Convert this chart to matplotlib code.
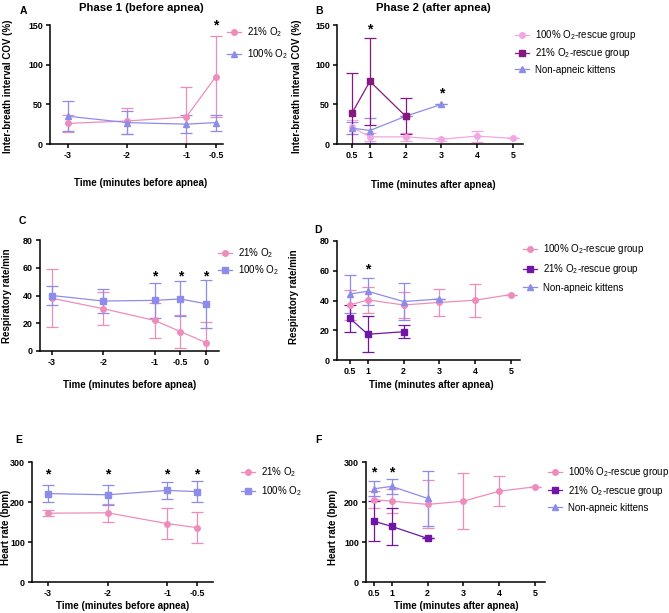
import numpy as np
import matplotlib
matplotlib.use("Agg")
from matplotlib import pyplot as plt
from matplotlib.lines import Line2D

plt.rcParams['font.family'] = ['Liberation Sans', 'DejaVu Sans']
plt.rcParams['mathtext.fontset'] = 'custom'
plt.rcParams['mathtext.rm'] = 'Liberation Sans'
plt.rcParams['mathtext.it'] = 'Liberation Sans:italic'
plt.rcParams['mathtext.bf'] = 'Liberation Sans:bold'

W, H = 669, 613

PINK = '#EE8DBC'
LILAC = '#F2A6E2'
BLUE = '#8E8CE9'
PURPLE_B = '#86197F'
PURPLE = '#7016A6'

# ---- data (mean, error) ----
# A: inter-breath interval COV, phase 1
a_x = [-3, -2, -1, -0.5]
a_21 = [26, 29, 34, 85]
a_21_err = [11, 16, 38, 51]
a_100 = [35, 27, 25, 27]
a_100_err = [19, 15, 11, 10]
a_stars = [(-0.5, 150)]

# B: inter-breath interval COV, phase 2
b_x_rescue100 = [0.5, 1, 2, 3, 4, 5]
b_rescue100 = [21, 9, 9, 6, 10, 7]
b_rescue100_err = [9, 5, 5, 2, 7, 0]
b_x_rescue21 = [0.5, 1, 2]
b_rescue21 = [39, 79, 35]
b_rescue21_err = [51, 55, 23]
b_x_nonapneic = [0.5, 1, 2, 3]
b_nonapneic = [20, 17, 35, 50]
b_nonapneic_err = [8, 16, 0, 0]
b_stars = [(1, 144), (3, 64)]

# C: respiratory rate, phase 1
c_x = [-3, -2, -1, -0.5, 0]
c_21 = [38, 30.5, 22, 14, 6]
c_21_err = [21, 12, 12.5, 12, 15]
c_100 = [40, 36, 36.5, 37.5, 34]
c_100_err = [7, 8.5, 12.7, 12.6, 17.5]
c_stars = [(-1, 54), (-0.5, 54), (0, 54)]

# D: respiratory rate, phase 2
d_x_rescue100 = [0.5, 1, 2, 3, 4, 5]
d_rescue100 = [37, 40.4, 37, 38.7, 40.2, 44]
d_rescue100_err = [10, 8.5, 9, 9, 11, 0]
d_x_rescue21 = [0.5, 1, 2]
d_rescue21 = [28, 17.3, 19]
d_rescue21_err = [9, 12, 4.2]
d_x_nonapneic = [0.5, 1, 2, 3]
d_nonapneic = [44.4, 46.2, 39.3, 41]
d_nonapneic_err = [12.5, 9, 12.4, 0]
d_stars = [(1, 61)]

# E: heart rate, phase 1
e_x = [-3, -2, -1, -0.5]
e_21 = [172, 173, 146, 136]
e_21_err = [8, 23, 39, 38]
e_100 = [221, 218, 229, 226]
e_100_err = [22, 25, 22, 27]
e_stars = [(-3, 270), (-2, 270), (-1, 270), (-0.5, 270)]

# F: heart rate, phase 2
f_x_rescue100 = [0.5, 1, 2, 3, 4, 5]
f_rescue100 = [206, 202, 194, 202, 227, 238]
f_rescue100_err = [21, 30, 60, 70, 37, 0]
f_x_rescue21 = [0.5, 1, 2]
f_rescue21 = [152, 139, 109]
f_rescue21_err = [50, 46, 0]
f_x_nonapneic = [0.5, 1, 2]
f_nonapneic = [233, 239, 209]
f_nonapneic_err = [19, 19, 68]
f_stars = [(0.5, 275), (1, 275)]

fig = plt.figure(figsize=(W / 100, H / 100), dpi=100)


def add_ax(l, t, r, b):
    return fig.add_axes([l / W, 1 - b / H, (r - l) / W, (b - t) / H])


def style(ax, xlim, ylim, xticks, yticks):
    ax.set_xlim(*xlim)
    ax.set_ylim(*ylim)
    ax.set_xticks(xticks)
    ax.set_xticklabels([('%g' % v) for v in xticks], fontweight='bold', fontsize=6.4)
    ax.set_yticks(yticks)
    ax.set_yticklabels([('%g' % v) for v in yticks], fontweight='bold', fontsize=6.4)
    for s in ['top', 'right']:
        ax.spines[s].set_visible(False)
    for s in ['left', 'bottom']:
        ax.spines[s].set_linewidth(1.1)
    ax.tick_params(direction='out', length=3, width=1.1, pad=2)


def series(ax, x, y, err, color, marker, ms):
    ax.errorbar(x, y, yerr=err, color=color, marker=marker, ms=ms, lw=0.9,
                elinewidth=0.9, capsize=4.5, capthick=0.9)
    return Line2D([], [], color=color, marker=marker, ms=ms, lw=0.9)


def stars(ax, pts):
    for x, y in pts:
        ax.text(x, y, '*', ha='center', va='center', fontsize=10, fontweight='bold',
                clip_on=False)


def legend(ax, handles, labels, lx, ly, spacing):
    ax.legend(handles, labels, loc='upper left', bbox_to_anchor=(lx / W, 1 - ly / H),
              bbox_transform=fig.transFigure, frameon=False, fontsize=7,
              borderpad=0, borderaxespad=0, handlelength=1.4, handletextpad=0.7,
              labelspacing=spacing)


def figtext(x, y, s, **kw):
    fig.text(x / W, 1 - y / H, s, ha='center', va='center', **kw)


lab1 = ['21% O$_2$', '100% O$_2$']
lab2 = ['100% O$_2$-rescue group', '21% O$_2$-rescue group', 'Non-apneic kittens']

# A
ax = add_ax(50, 25, 223, 144)
h1 = series(ax, a_x, a_21, a_21_err, PINK, 'o', 4)
h2 = series(ax, a_x, a_100, a_100_err, BLUE, '^', 4)
style(ax, (-3.3, -0.38), (0, 150), a_x, [0, 50, 100, 150])
stars(ax, a_stars)
legend(ax, [h1, h2], lab1, 227, 25, 0.9)

# B
ax = add_ax(337, 25, 523, 144)
h1 = series(ax, b_x_rescue100, b_rescue100, b_rescue100_err, LILAC, 'o', 4)
h3 = series(ax, b_x_nonapneic, b_nonapneic, b_nonapneic_err, BLUE, '^', 4)
h2 = series(ax, b_x_rescue21, b_rescue21, b_rescue21_err, PURPLE_B, 's', 4.2)
style(ax, (0.08, 5.28), (0, 150), b_x_rescue100, [0, 50, 100, 150])
stars(ax, b_stars)
legend(ax, [h1, h2, h3], lab2, 515, 28, 0.45)

# C
ax = add_ax(40, 240, 219, 351)
h1 = series(ax, c_x, c_21, c_21_err, PINK, 'o', 4)
h2 = series(ax, c_x, c_100, c_100_err, BLUE, 's', 4)
style(ax, (-3.23, 0.25), (0, 80), c_x, [0, 20, 40, 60, 80])
stars(ax, c_stars)
legend(ax, [h1, h2], lab1, 218, 246, 0.4)

# D
ax = add_ax(337, 241, 520, 360)
h1 = series(ax, d_x_rescue100, d_rescue100, d_rescue100_err, PINK, 'o', 4)
h3 = series(ax, d_x_nonapneic, d_nonapneic, d_nonapneic_err, BLUE, '^', 4)
h2 = series(ax, d_x_rescue21, d_rescue21, d_rescue21_err, PURPLE, 's', 4.2)
style(ax, (0.14, 5.25), (0, 80), d_x_rescue100, [0, 20, 40, 60, 80])
stars(ax, d_stars)
legend(ax, [h1, h2, h3], lab2, 523, 242, 0.65)

# E
ax = add_ax(32, 462, 213, 582)
h1 = series(ax, e_x, e_21, e_21_err, PINK, 'o', 4)
h2 = series(ax, e_x, e_100, e_100_err, BLUE, 's', 4)
style(ax, (-3.27, -0.23), (0, 300), e_x, [0, 100, 200, 300])
stars(ax, e_stars)
legend(ax, [h1, h2], lab1, 241, 465, 0.55)

# F
ax = add_ax(366, 462, 545, 582)
h1 = series(ax, f_x_rescue100, f_rescue100, f_rescue100_err, PINK, 'o', 4)
h3 = series(ax, f_x_nonapneic, f_nonapneic, f_nonapneic_err, BLUE, '^', 4)
h2 = series(ax, f_x_rescue21, f_rescue21, f_rescue21_err, PURPLE, 's', 4.2)
style(ax, (0.28, 5.28), (0, 300), f_x_rescue100, [0, 100, 200, 300])
stars(ax, f_stars)
legend(ax, [h1, h2, h3], lab2, 548, 465, 0.5)

# labels, titles, panel letters
lab = dict(fontsize=7, fontweight='bold')
figtext(8, 86, 'Inter-breath interval COV (%)', rotation=90, **lab)
figtext(297, 86, 'Inter-breath interval COV (%)', rotation=90, **lab)
figtext(7, 296, 'Respiratory rate/min', rotation=90, **lab)
figtext(294, 297, 'Respiratory rate/min', rotation=90, **lab)
figtext(6, 527, 'Heart rate (bpm)', rotation=90, **lab)
figtext(333, 527, 'Heart rate (bpm)', rotation=90, **lab)

figtext(141, 183, 'Time (minutes before apnea)', **lab)
figtext(433, 185, 'Time (minutes after apnea)', **lab)
figtext(130, 385, 'Time (minutes before apnea)', **lab)
figtext(431, 385, 'Time (minutes after apnea)', **lab)
figtext(123, 606, 'Time (minutes before apnea)', **lab)
figtext(456, 606, 'Time (minutes after apnea)', **lab)

figtext(141, 8, 'Phase 1 (before apnea)', fontsize=8.2, fontweight='bold')
figtext(433, 8, 'Phase 2 (after apnea)', fontsize=8.2, fontweight='bold')

for letter, x, y in [('A', 23, 11), ('B', 319, 11), ('C', 22, 221), ('D', 318, 230),
                     ('E', 19, 440), ('F', 318, 440)]:
    figtext(x, y, letter, fontsize=7.5, fontweight='bold')

fig.savefig('out.png', dpi=100)
